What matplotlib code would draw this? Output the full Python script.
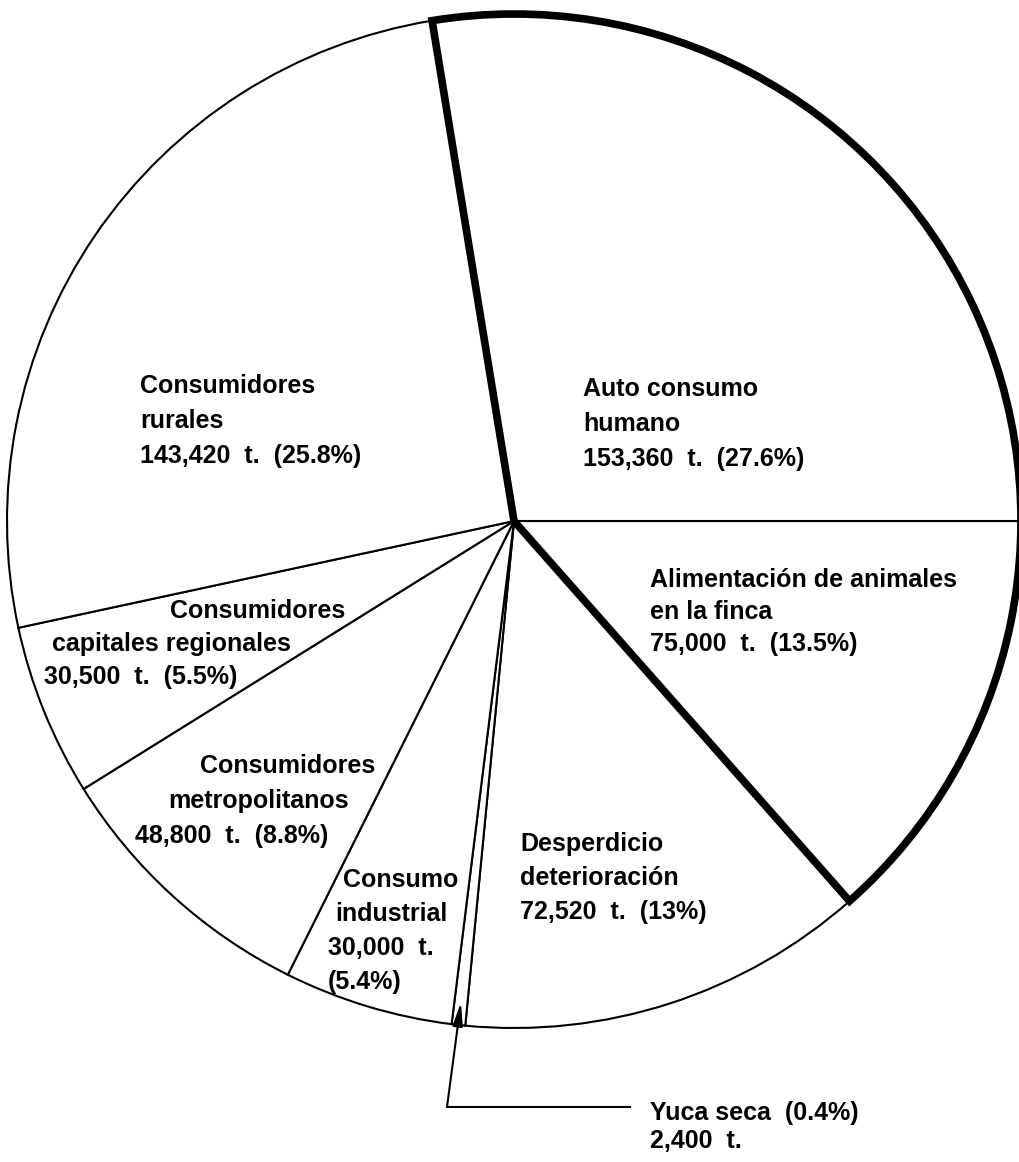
import numpy as np
import matplotlib
matplotlib.use("Agg")
import matplotlib.pyplot as plt
from matplotlib.patches import Wedge

# ---- data (clockwise from 3 o'clock) ----
categories = ["Alimentación de animales en la finca", "Desperdicio deterioración",
              "Yuca seca", "Consumo industrial", "Consumidores metropolitanos",
              "Consumidores capitales regionales", "Consumidores rurales",
              "Auto consumo humano"]
tonnes = [75000, 72520, 2400, 30000, 48800, 30500, 143420, 153360]
percent_labels = ["13.5%", "13%", "0.4%", "5.4%", "8.8%", "5.5%", "25.8%", "27.6%"]
tonne_labels = ["75,000", "72,520", "2,400", "30,000", "48,800", "30,500", "143,420", "153,360"]

W, H = 1020, 1162
fig = plt.figure(figsize=(W / 100, H / 100), dpi=100)
ax = fig.add_axes([0, 0, 1, 1])


def Y(py):
    return H - py


cx, cy, r = 514, Y(521), 507
wedges, _ = ax.pie(tonnes, startangle=0, counterclock=False, center=(cx, cy), radius=r,
                   frame=True,
                   wedgeprops=dict(facecolor="white", edgecolor="black", linewidth=1.5))
ax.set_xlim(0, W)
ax.set_ylim(0, H)
ax.set_aspect("equal")
ax.axis("off")

# thick outline around the two on-farm uses (Alimentación + Auto consumo)
a_lo = wedges[0].theta1
a_hi = wedges[-1].theta2 % 360
if a_hi <= 0:
    a_hi += 360
thick = Wedge((cx, cy), r, a_lo, a_hi, fill=False, edgecolor="black",
              linewidth=5.5, joinstyle="miter", zorder=5)
ax.add_patch(thick)

fs = 18
tkw = dict(fontsize=fs, fontweight="bold", family="Liberation Sans", color="black",
           va="baseline", ha="left", zorder=6)


def lines(y0, texts, xs, dy=34):
    for i, t in enumerate(texts):
        ax.text(xs[i], Y(y0 + i * dy), t, **tkw)


def amount(i):
    return f"{tonne_labels[i]}  t.  ({percent_labels[i]})"


# Auto consumo humano
lines(396, ["Auto consumo", "humano", amount(7)], [583] * 3, dy=35)
# Consumidores rurales
lines(393, ["Consumidores", "rurales", amount(6)], [140] * 3, dy=35)
# Alimentación
lines(587, ["Alimentación de animales", "en la finca", amount(0)], [650] * 3, dy=32)
# Capitales regionales
lines(618, ["Consumidores", "capitales regionales", amount(5)], [170, 52, 44], dy=33)
# Metropolitanos
lines(773, ["Consumidores", "metropolitanos", amount(4)], [200, 168, 135], dy=35)
# Industrial
lines(887, ["Consumo", "industrial", f"{tonne_labels[3]}  t.", f"({percent_labels[3]})"],
      [343, 335, 328, 328], dy=34)
# Desperdicio
lines(851, ["Desperdicio", "deterioración", amount(1)], [520] * 3, dy=34)

# Yuca seca callout
w = wedges[2]
mid = np.deg2rad((w.theta1 + w.theta2) / 2)
tip = (cx + 0.955 * r * np.cos(mid), cy + 0.955 * r * np.sin(mid))
corner = (447, Y(1107))
ax.plot([630, corner[0]], [corner[1], corner[1]], color="black", lw=1.5, zorder=6)
ax.annotate("", xy=tip, xytext=corner,
            arrowprops=dict(arrowstyle="-|>,head_length=0.7,head_width=0.15",
                            color="black", lw=1.5, mutation_scale=20,
                            shrinkA=0, shrinkB=0), zorder=6)
ax.text(650, Y(1120), f"Yuca seca  ({percent_labels[2]})", **tkw)
ax.text(650, Y(1148), f"{tonne_labels[2]}  t.", **tkw)

fig.savefig("out.png", dpi=100, facecolor="white")
